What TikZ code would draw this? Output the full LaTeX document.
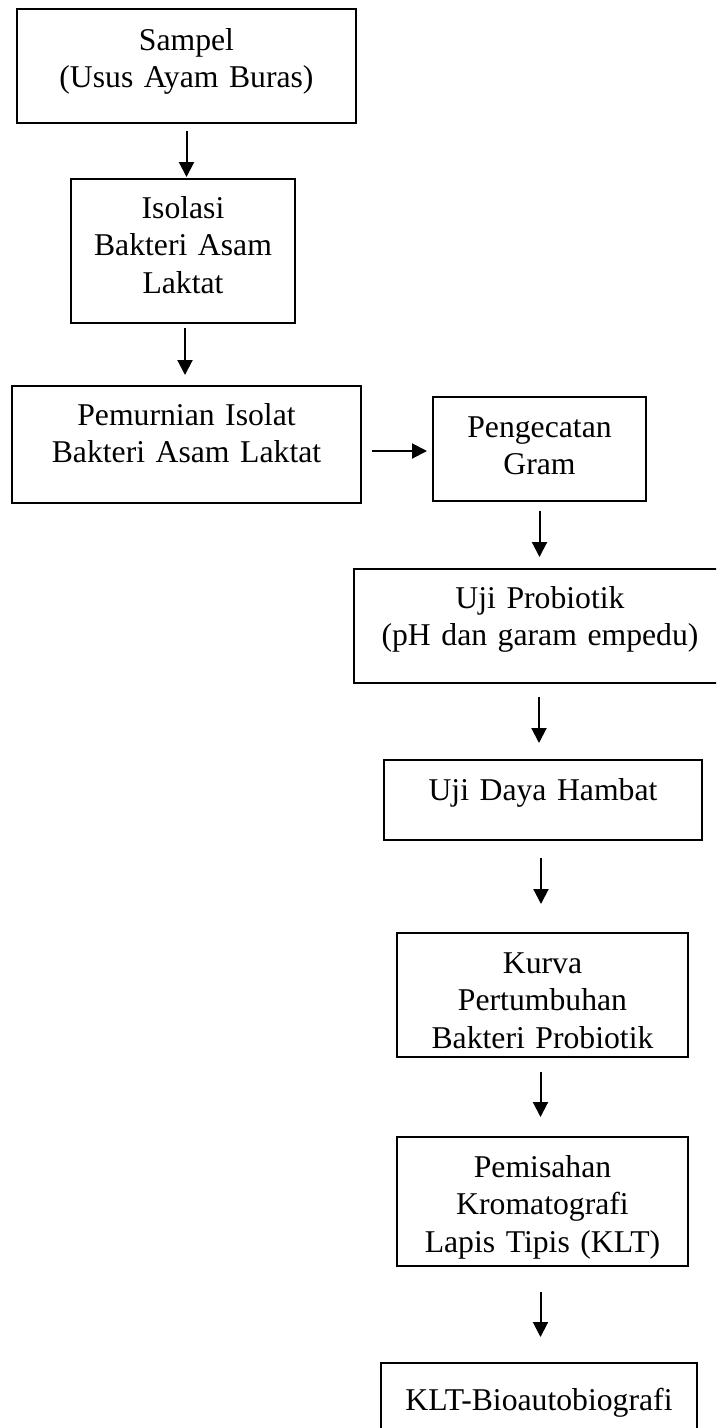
\documentclass[tikz,border=0pt]{standalone}
\usepackage{fontspec}
\setmainfont{Liberation Serif}
\usetikzlibrary{arrows.meta,calc}
\tikzset{
  box/.style={draw, line width=2.7pt, inner sep=0pt, outer sep=0pt, anchor=north west,
              align=center, font=\fontsize{31.7}{37.5}\selectfont},
  flow/.style={-{Triangle[length=15pt,width=15pt]}, line width=2pt},
}
\begin{document}
\begin{tikzpicture}[x=1pt,y=-1pt]
    \path[use as bounding box, clip] (0,0) rectangle (716,1428);
    \node[box, text width=339pt, text height=41pt, text depth=73pt] (samp) at (17,9) {Sampel\\(Usus Ayam Buras)};
    \node[box, text width=224pt, text height=39pt, text depth=105pt] (isol) at (71,179) {Isolasi\\Bakteri Asam\\Laktat};
    \node[box, text width=349pt, text height=39pt, text depth=78pt] (murni) at (12,386) {Pemurnian Isolat\\Bakteri Asam Laktat};
    \node[box, text width=213pt, text height=40pt, text depth=64pt] (gram) at (433,397) {Pengecatan\\Gram};
    \node[box, text width=372pt, text height=39pt, text depth=75pt] (probio) at (354,569) {Uji Probiotik\\(pH dan garam empedu)};
    \node[box, text width=318pt, text height=40pt, text depth=40pt] (hambat) at (384,760) {Uji Daya Hambat};
    \node[box, text width=291pt, text height=40pt, text depth=84pt] (kurva) at (397,933) {Kurva\\Pertumbuhan\\Bakteri Probiotik};
    \node[box, text width=291pt, text height=40pt, text depth=89pt] (klt) at (397,1137) {Pemisahan\\Kromatografi\\Lapis Tipis (KLT)};
    \node[box, text width=316pt, text height=47pt, text depth=40pt] (bio) at (381,1363) {KLT-Bioautobiografi};
    \draw[flow, shorten <=8pt, shorten >=2pt] (samp.south) -- (samp.south |- isol.north);
    \draw[flow, shorten <=5pt, shorten >=11pt] ([xshift=2pt]isol.south) -- ([xshift=2pt]isol.south |- murni.north);
    \draw[flow, shorten <=11pt, shorten >=6pt] ([yshift=-2pt]gram.west -| murni.east) -- ([yshift=-2pt]gram.west);
    \draw[flow, shorten <=10pt, shorten >=12pt] (gram.south) -- (gram.south |- probio.north);
    \draw[flow, shorten <=14pt, shorten >=17pt] ([xshift=-1pt]probio.south) -- ([xshift=-1pt]probio.south |- hambat.north);
    \draw[flow, shorten <=18pt, shorten >=29pt] ([xshift=-2pt]hambat.south) -- ([xshift=-2pt]hambat.south |- kurva.north);
    \draw[flow, shorten <=15pt, shorten >=20pt] ([xshift=-2pt]kurva.south) -- ([xshift=-2pt]kurva.south |- klt.north);
    \draw[flow, shorten <=26pt, shorten >=26pt] ([xshift=-2pt]klt.south) -- ([xshift=-2pt]klt.south |- bio.north);
  \end{tikzpicture}
\end{document}
